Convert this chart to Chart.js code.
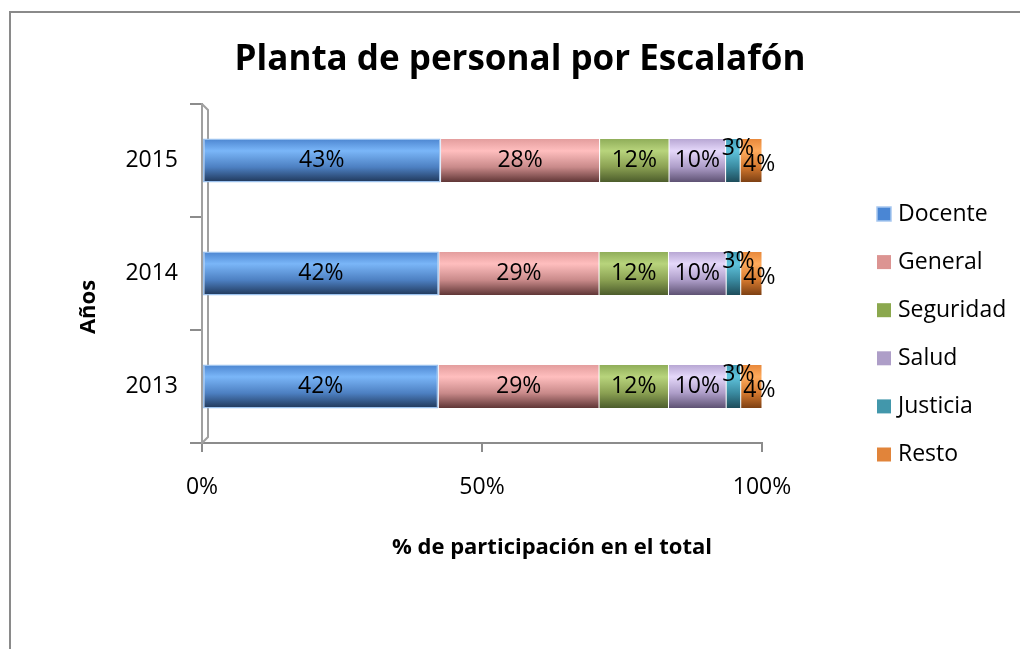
<!DOCTYPE html>
<html>
<head>
<meta charset="utf-8">
<script src="https://cdn.jsdelivr.net/npm/chart.js@4/dist/chart.umd.min.js"></script>
<style>
  html, body { margin: 0; padding: 0; background: #fff; }
  #wrap { width: 1020px; height: 649px; position: relative; }
</style>
</head>
<body>
<div id="wrap"><canvas id="c" width="1020" height="649"></canvas></div>
<script>
// ---- Data ----
const years = ['2015', '2014', '2013'];
const seriesNames = ['Docente', 'General', 'Seguridad', 'Salud', 'Justicia', 'Resto'];
const docente   = [42.6, 42.3, 42.2];
const general   = [28.4, 28.6, 28.7];
const seguridad = [12.4, 12.4, 12.4];
const salud     = [10.1, 10.3, 10.3];
const justicia  = [2.6, 2.6, 2.6];
const resto     = [3.9, 3.8, 3.8];
const xTicks = [0, 50, 100];
const chartTitle = 'Planta de personal por Escalafón';
const xTitle = '% de participación en el total';
const yTitle = 'Años';

// ---- Styles ----
const FONT = '"Open Sans", Lato, "Liberation Sans", sans-serif';
const BAR_PCT = 0.39;
const palette = [
  { solid: '#4a86d4', stops: ['#4b84cf', '#7ab6f8', '#4d80c2', '#1e3556'], border: '#9cc2ee' },
  { solid: '#dc9492', stops: ['#e29c9c', '#ffbebe', '#c98a8a', '#5c3333'], border: 'rgba(255,255,255,0.35)' },
  { solid: '#8ba84e', stops: ['#8eac58', '#b8d47c', '#8aa052', '#4a5a2a'], border: 'rgba(255,255,255,0.35)' },
  { solid: '#ae9ec8', stops: ['#b6a5d2', '#e5d8fa', '#ad9dc8', '#5b4f70'], border: 'rgba(255,255,255,0.35)' },
  { solid: '#4297ab', stops: ['#3f9bb5', '#5fc3dc', '#3a8aa0', '#1d4a58'], border: 'rgba(255,255,255,0.35)' },
  { solid: '#e1843a', stops: ['#e7873a', '#ffab5c', '#d4782e', '#7a3e12'], border: 'rgba(255,255,255,0.35)' }
];
const labelOffsets = [
  {dx: 0, dy: 0}, {dx: 0, dy: 0}, {dx: 0, dy: 0}, {dx: 0, dy: 0},
  {dx: 5, dy: -12}, {dx: 8, dy: 4}
];

function gradientFor(idx) {
  const p = palette[idx];
  return (ctx) => {
    const chart = ctx.chart;
    const ys = chart.scales && chart.scales.y;
    if (ctx.dataIndex === undefined || !ys || !chart.chartArea) return p.solid;
    const cy = ys.getPixelForValue(ctx.dataIndex);
    const h = (chart.chartArea.bottom - chart.chartArea.top) / years.length * BAR_PCT;
    const g = chart.ctx.createLinearGradient(0, cy - h / 2, 0, cy + h / 2);
    g.addColorStop(0, p.stops[0]);
    g.addColorStop(0.28, p.stops[1]);
    g.addColorStop(0.65, p.stops[2]);
    g.addColorStop(1, p.stops[3]);
    return g;
  };
}

const seriesData = [docente, general, seguridad, salud, justicia, resto];
const datasets = seriesNames.map((name, i) => ({
  label: name,
  data: seriesData[i],
  backgroundColor: gradientFor(i),
  borderColor: palette[i].border,
  borderWidth: i === 0 ? 1.5 : 0.5,
  borderSkipped: false,
  barPercentage: BAR_PCT,
  categoryPercentage: 1.0
}));

const framePlugin = {
  id: 'frame',
  beforeDraw(chart) {
    const c = chart.ctx;
    c.save();
    c.fillStyle = '#ffffff';
    c.fillRect(0, 0, chart.width, chart.height);
    c.strokeStyle = '#8a8a8a';
    c.lineWidth = 2;
    c.strokeRect(10, 12, 1100, 800);
    c.restore();
  },
  beforeDatasetsDraw(chart) {
    const a = chart.chartArea;
    const c = chart.ctx;
    c.save();
    c.strokeStyle = '#a0a0a0';
    c.lineWidth = 2;
    c.beginPath();
    c.moveTo(a.left, a.top);
    c.lineTo(a.left + 6, a.top + 6);
    c.lineTo(a.left + 6, a.bottom - 6);
    c.lineTo(a.left, a.bottom);
    c.stroke();
    c.restore();
  }
};

const valueLabelPlugin = {
  id: 'valueLabels',
  afterDatasetsDraw(chart) {
    const c = chart.ctx;
    c.save();
    c.font = '23px ' + FONT;
    c.fillStyle = '#000';
    c.textAlign = 'center';
    c.textBaseline = 'middle';
    chart.data.datasets.forEach((ds, di) => {
      const meta = chart.getDatasetMeta(di);
      meta.data.forEach((el, i) => {
        const v = ds.data[i];
        const x = (el.x + el.base) / 2 + labelOffsets[di].dx;
        const y = el.y + labelOffsets[di].dy;
        c.fillText(Math.round(v) + '%', x, y);
      });
    });
    c.restore();
  }
};

const textPlugin = {
  id: 'sideTexts',
  afterDraw(chart) {
    const c = chart.ctx;
    c.save();
    // legend
    c.font = '23px ' + FONT;
    c.textAlign = 'left';
    c.textBaseline = 'middle';
    seriesNames.forEach((name, i) => {
      const y = 214 + i * 48.1;
      c.fillStyle = palette[i].solid;
      c.fillRect(877, y - 7, 14, 14);
      if (i === 0) {
        c.strokeStyle = '#a8c8f0';
        c.lineWidth = 1.5;
        c.strokeRect(877, y - 7, 14, 14);
      }
      c.fillStyle = '#000';
      c.fillText(name, 898, y);
    });
    // axis titles
    c.fillStyle = '#000';
    c.textAlign = 'center';
    c.textBaseline = 'middle';
    c.font = 'bold 22px ' + FONT;
    c.fillText(xTitle, 552, 548);
    c.translate(89, 307);
    c.rotate(-Math.PI / 2);
    c.font = 'bold 22px ' + FONT;
    c.fillText(yTitle, 0, 0);
    c.restore();
  }
};

new Chart(document.getElementById('c'), {
  type: 'bar',
  data: { labels: years, datasets },
  plugins: [framePlugin, valueLabelPlugin, textPlugin],
  options: {
    indexAxis: 'y',
    responsive: false,
    animation: false,
    devicePixelRatio: 1,
    layout: { padding: { left: 20, right: 0, top: 0, bottom: 89 } },
    plugins: {
      legend: { display: false },
      tooltip: { enabled: false },
      title: {
        display: true,
        text: chartTitle,
        color: '#000',
        font: { family: FONT, size: 35, weight: 'bold', lineHeight: 1.2 },
        padding: { top: 39, bottom: 23 }
      }
    },
    scales: {
      x: {
        stacked: true,
        min: 0,
        max: 100,
        afterBuildTicks(scale) { scale.ticks = xTicks.map(v => ({ value: v })); },
        afterFit(scale) { scale.height = 117; },
        grid: { drawOnChartArea: false, drawTicks: true, tickLength: 9, color: '#8c8c8c', lineWidth: 2 },
        border: { display: true, color: '#8c8c8c', width: 2 },
        ticks: {
          color: '#000',
          font: { family: FONT, size: 23 },
          padding: 22,
          maxRotation: 0,
          callback: (v) => v + '%'
        }
      },
      y: {
        stacked: true,
        afterFit(scale) { scale.width = 182; },
        grid: { drawOnChartArea: false, drawTicks: true, tickLength: 12, offset: true, color: '#8c8c8c', lineWidth: 2 },
        border: { display: true, color: '#a0a0a0', width: 2 },
        ticks: {
          color: '#000',
          font: { family: FONT, size: 23 },
          padding: 12
        }
      },
      legendSpace: {
        type: 'linear',
        axis: 'y',
        position: 'right',
        display: true,
        grid: { display: false },
        border: { display: false },
        ticks: { display: false },
        afterFit(scale) { scale.width = 258; }
      }
    }
  }
});
</script>
</body>
</html>
